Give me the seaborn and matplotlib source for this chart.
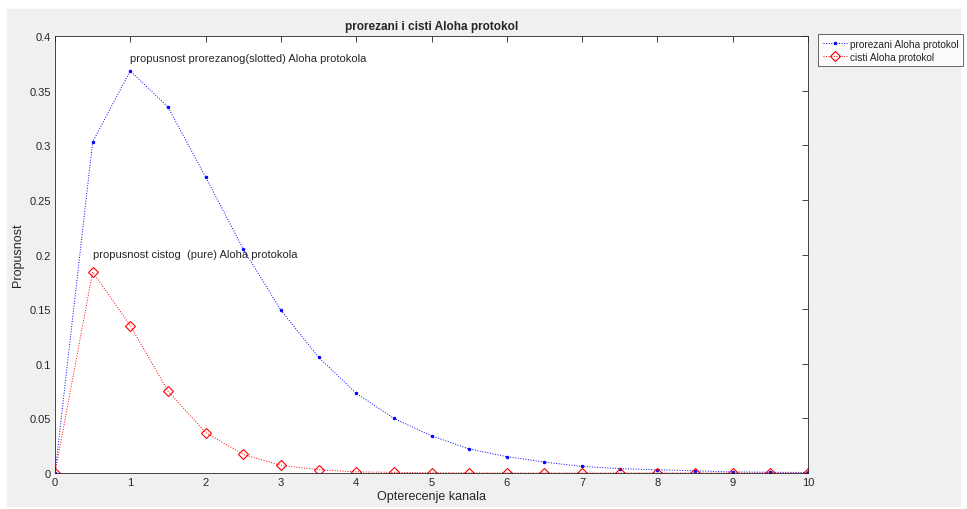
import numpy as np
import matplotlib
matplotlib.use('Agg')
import matplotlib.pyplot as plt
import seaborn as sns

# data
opterecenje = [0, 0.5, 1, 1.5, 2, 2.5, 3, 3.5, 4, 4.5, 5, 5.5, 6, 6.5, 7, 7.5, 8, 8.5, 9, 9.5, 10]
prorezani = [0, 0.303, 0.368, 0.335, 0.271, 0.205, 0.149, 0.106, 0.073, 0.050, 0.034,
             0.022, 0.015, 0.010, 0.006, 0.004, 0.003, 0.002, 0.001, 0.0007, 0.0005]
cisti = [0, 0.184, 0.135, 0.075, 0.037, 0.017, 0.007, 0.003, 0.001, 0.0006, 0.0002,
         0.0001, 0, 0, 0, 0, 0, 0, 0, 0, 0]

sns.set_style('white')
plt.rcParams['font.family'] = ['Liberation Sans', 'DejaVu Sans']

fig = plt.figure(figsize=(9.67, 5.1), dpi=100, facecolor='white')
# grey MATLAB-style figure window inside a thin white border
fig.patches.append(plt.Rectangle((7/967, 3/510), 1 - 14/967, 1 - 13/510,
                                 transform=fig.transFigure, color='#f0f0f0', zorder=-10))
ax = fig.add_axes([55/967, 1 - 474/510, (808 - 55)/967, (474 - 37)/510])
ax.set_facecolor('white')

sns.lineplot(x=opterecenje, y=prorezani, ax=ax, color='blue', linestyle=':', linewidth=0.7,
             marker='.', markersize=3.5, markeredgecolor='blue', label='prorezani Aloha protokol')
sns.lineplot(x=opterecenje, y=cisti, ax=ax, color='red', linestyle=':', linewidth=0.7,
             marker='D', markersize=5, markerfacecolor='none', markeredgecolor='red',
             markeredgewidth=0.8, label='cisti Aloha protokol')

ax.text(1, 0.38, 'propusnost prorezanog(slotted) Aloha protokola', fontsize=8, va='center')
ax.text(0.5, 0.2, 'propusnost cistog  (pure) Aloha protokola', fontsize=8, va='center')

ax.set_xlim(0, 10)
ax.set_ylim(0, 0.4)
ax.set_xticks(range(0, 11))
ax.set_yticks([0, 0.05, 0.1, 0.15, 0.2, 0.25, 0.3, 0.35, 0.4])
ax.set_yticklabels(['0', '0.05', '0.1', '0.15', '0.2', '0.25', '0.3', '0.35', '0.4'])
ax.tick_params(direction='in', length=4, width=0.6, top=True, right=True, labelsize=8,
               colors='#262626', pad=3)
for s in ax.spines.values():
    s.set_color('#262626')
    s.set_linewidth(0.6)

ax.set_title('prorezani i cisti Aloha protokol', fontsize=8.5, fontweight='bold', pad=5)
ax.set_xlabel('Opterecenje kanala', fontsize=9, labelpad=2)
ax.set_ylabel('Propusnost', fontsize=9, labelpad=4)

leg = ax.legend(loc='upper left', bbox_to_anchor=(818/967, 1 - 35/510),
                bbox_transform=fig.transFigure, fontsize=7.3, frameon=True,
                fancybox=False, handlelength=2.4, borderpad=0.45, labelspacing=0.3,
                handletextpad=0.3, borderaxespad=0)
leg.get_frame().set_edgecolor('#262626')
leg.get_frame().set_linewidth(0.6)

fig.savefig('out.png', dpi=100, facecolor=fig.get_facecolor())
